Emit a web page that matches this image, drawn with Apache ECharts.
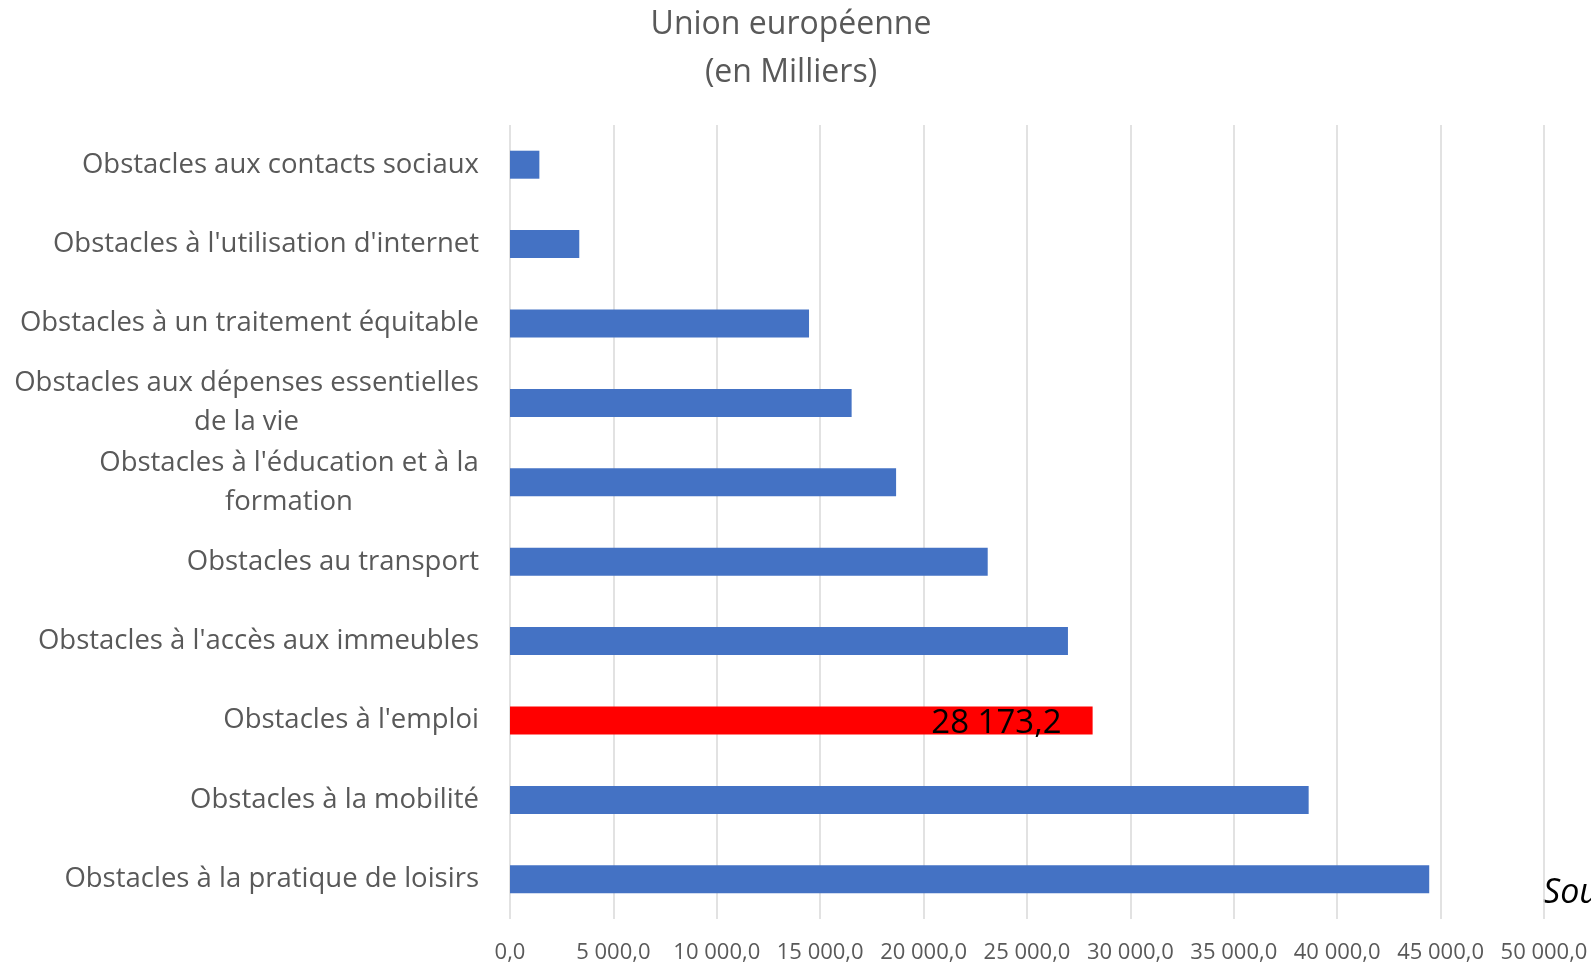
<!DOCTYPE html>
<html>
<head>
<meta charset="utf-8">
<script src="https://cdn.jsdelivr.net/npm/echarts@6/dist/echarts.min.js"></script>
<style>
  html, body { margin: 0; padding: 0; background: #fff; }
  #chart { width: 1591px; height: 964px; }
</style>
</head>
<body>
<div id="chart"></div>
<script>
// catégories, de haut en bas
var categories = [
  "Obstacles aux contacts sociaux",
  "Obstacles à l'utilisation d'internet",
  "Obstacles à un traitement équitable",
  "Obstacles aux dépenses essentielles\nde la vie",
  "Obstacles à l'éducation et à la\nformation",
  "Obstacles au transport",
  "Obstacles à l'accès aux immeubles",
  "Obstacles à l'emploi",
  "Obstacles à la mobilité",
  "Obstacles à la pratique de loisirs"
];
// valeurs en milliers
var values = [1420, 3350, 14460, 16520, 18670, 23100, 26980, 28173.2, 38620, 44450];
var highlighted = "Obstacles à l'emploi";
var xTicks = { min: 0, max: 50000, interval: 5000 };

var font = '"Open Sans", sans-serif';
var labelSize = 27.5;

// format français : 28 173,2
function frNum(v) {
  var s = Number(v).toFixed(1).split('.');
  return s[0].replace(/\B(?=(\d{3})+(?!\d))/g, ' ') + ',' + s[1];
}

// largeur d'une ligne, pour centrer les libellés sur deux lignes
var ctx = document.createElement('canvas').getContext('2d');
function textWidth(s) {
  ctx.font = labelSize + 'px ' + font;
  return ctx.measureText(s).width;
}
var rich = {};
categories.forEach(function (c, i) {
  if (c.indexOf('\n') >= 0) {
    var w = Math.max.apply(null, c.split('\n').map(textWidth));
    rich['w' + i] = {
      width: Math.ceil(w), align: 'center',
      fontSize: labelSize, fontFamily: font, color: '#595959', lineHeight: 39
    };
  }
});

var chart = echarts.init(document.getElementById('chart'));
chart.setOption({
  backgroundColor: '#fff',
  animation: false,
  title: {
    text: 'Union européenne\n(en Milliers)',
    left: 791,
    textAlign: 'center',
    top: 1,
    padding: 0,
    textStyle: { fontFamily: font, fontSize: 32, fontWeight: 'normal', color: '#595959', lineHeight: 48 }
  },
  grid: { left: 510, right: 47, top: 125, bottom: 42, containLabel: false },
  xAxis: {
    type: 'value',
    min: xTicks.min, max: xTicks.max, interval: xTicks.interval,
    axisLine: { show: false },
    axisTick: { show: false },
    splitLine: { show: true, lineStyle: { color: '#d9d9d9', width: 1.5 } },
    axisLabel: {
      formatter: frNum, fontFamily: font, fontSize: 22, color: '#595959', margin: 23
    }
  },
  yAxis: {
    type: 'category',
    inverse: true,
    data: categories,
    axisLine: { show: false },
    axisTick: { show: false },
    axisLabel: {
      fontFamily: font, fontSize: labelSize, color: '#595959', margin: 31,
      lineHeight: 39,
      rich: rich,
      formatter: function (v, i) {
        if (v.indexOf('\n') < 0) return v;
        return v.split('\n').map(function (l) { return '{w' + i + '|' + l + '}'; }).join('\n');
      }
    }
  },
  series: [{
    type: 'bar',
    barWidth: 28,
    data: values.map(function (v, i) {
      var hot = categories[i] === highlighted;
      return {
        value: v,
        itemStyle: { color: hot ? '#ff0000' : '#4472c4' },
        label: hot ? {
          show: true, position: 'insideRight', distance: 31, offset: [0, 3],
          formatter: function (p) { return frNum(p.value); },
          fontFamily: font, fontSize: 33, color: '#000'
        } : { show: false }
      };
    })
  }],
  graphic: [{
    type: 'text',
    left: 1543,
    top: 876,
    style: { text: 'Source : Eurostat', fontFamily: font, fontStyle: 'italic', fontSize: 34, fill: '#000' }
  }]
});
</script>
</body>
</html>
